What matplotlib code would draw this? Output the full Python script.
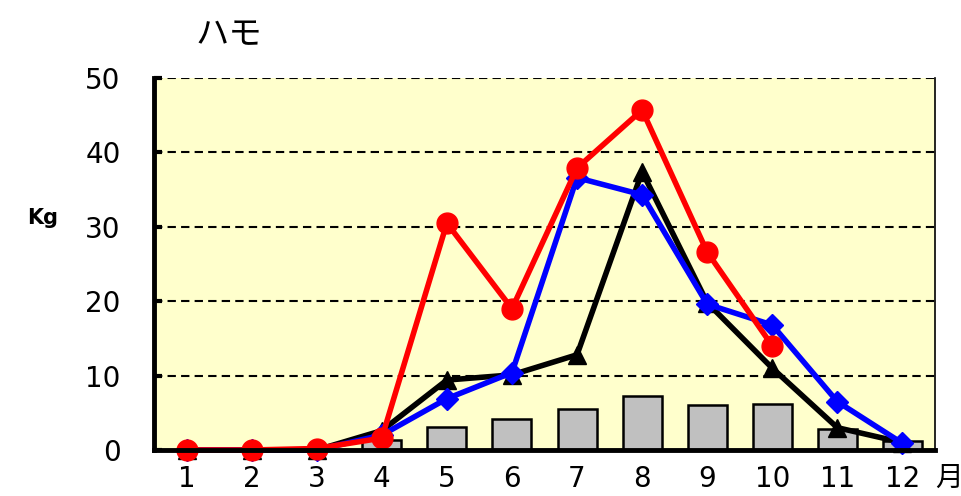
import numpy as np
import matplotlib
matplotlib.use('Agg')
import matplotlib.pyplot as plt

plt.rcParams['font.family'] = ['DejaVu Sans', 'Noto Sans CJK JP']

# monthly catch (kg)
months = np.arange(1, 13)
bars = [0, 0, 0, 1.3, 3.1, 4.2, 5.5, 7.3, 6.0, 6.2, 2.8, 1.2]
black_tri = [0, 0, 0, 2.6, 9.4, 10.1, 12.8, 37.4, 19.8, 11.0, 3.0, 1.0]
blue_dia = [0, 0, 0, 2.0, 6.9, 10.4, 36.6, 34.3, 19.6, 16.8, 6.5, 0.9]
red_circ = [0, 0, 0.2, 1.6, 30.5, 19.0, 37.9, 45.7, 26.6, 14.0]
yticks = [0, 10, 20, 30, 40, 50]

fig = plt.figure(figsize=(9.61, 4.96), dpi=100)
ax = fig.add_axes([154 / 961, 46 / 496, 781 / 961, 372 / 496])
ax.set_facecolor('#FFFFCC')

ax.bar(months, bars, width=0.6, color='#C0C0C0', edgecolor='black', linewidth=1.8, zorder=2)
ax.plot(months, black_tri, color='black', lw=4, marker='^', ms=13, zorder=3, clip_on=False)
ax.plot(months, blue_dia, color='#0000FF', lw=4, marker='D', ms=11, zorder=4, clip_on=False)
ax.plot(months[:len(red_circ)], red_circ, color='#FF0000', lw=4, marker='o', ms=15, zorder=5, clip_on=False)

ax.set_xlim(0.5, 12.5)
ax.set_ylim(0, 50)
ax.set_yticks(yticks)
ax.set_xticks(months)
for y in yticks[1:]:
    ax.axhline(y, color='black', lw=1.5, ls=(0, (4, 2.5)), zorder=1)

ax.spines['top'].set_visible(False)
ax.spines['right'].set_linewidth(1.2)
ax.spines['left'].set_linewidth(3.5)
ax.spines['bottom'].set_linewidth(3.5)
ax.spines['bottom'].set_zorder(6)
ax.tick_params(axis='y', direction='in', length=6, width=3, labelsize=20, pad=24)
ax.tick_params(axis='x', length=0, labelsize=20, pad=11)
for lab in ax.get_yticklabels():
    lab.set_va('center_baseline')

fig.text(229 / 961, 1 - 35 / 496, 'ハモ', fontsize=24, family=['Noto Sans CJK JP'],
         ha='center', va='center')
fig.text(43 / 961, 1 - 218 / 496, 'Kg', fontsize=15, fontweight='bold', ha='center', va='center')
fig.text(949 / 961, 1 - 478 / 496, '月', fontsize=20, family=['Noto Sans CJK JP'],
         ha='center', va='center')

fig.savefig('out.png', dpi=100)
